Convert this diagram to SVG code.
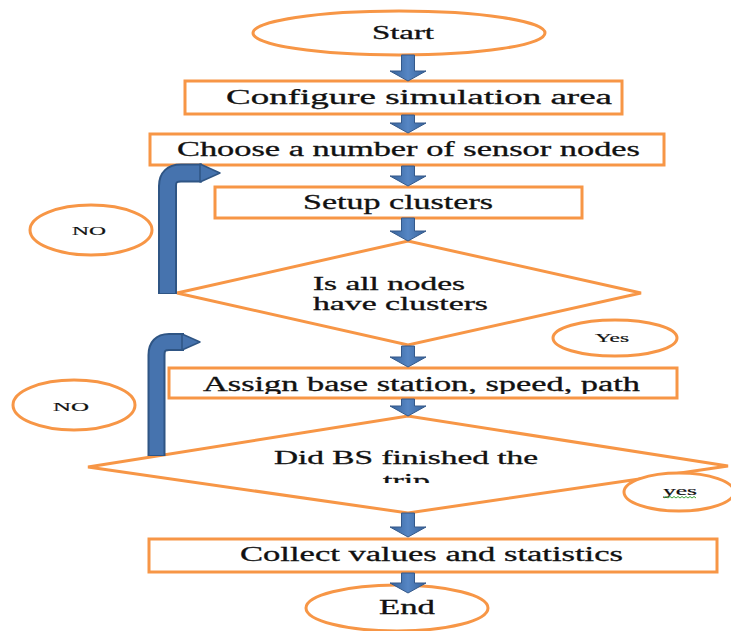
<svg xmlns="http://www.w3.org/2000/svg" width="731" height="631" viewBox="0 0 731 631">
  <style>
    .shape { fill: #fff; stroke: #F79646; stroke-width: 3; }
    .lbl { font-family: "Liberation Serif", "Times New Roman", serif; fill: #111; stroke: #111; stroke-width: 0.3; }
    .big { font-size: 20px; }
    .mid { font-size: 18px; }
    .small { font-size: 13px; stroke-width: 0.2; }
    .blk { fill: url(#blueGrad); stroke: #34598A; stroke-width: 1; }
    .loopOut { fill: none; stroke: #2F5584; }
    .loopIn { fill: none; stroke: #4673AE; }
    .loopHead { fill: #4673AE; stroke: #2F5584; stroke-width: 1.5; stroke-linejoin: round; }
  </style>
  <defs>
    <linearGradient id="blueGrad" x1="0" y1="0" x2="1" y2="0">
      <stop offset="0" stop-color="#36629A"/>
      <stop offset="0.5" stop-color="#5686C4"/>
      <stop offset="1" stop-color="#36629A"/>
    </linearGradient>
    <clipPath id="clipAssign"><rect x="0" y="0" width="731" height="394"/></clipPath>
    <clipPath id="clipTrip"><rect x="0" y="0" width="731" height="483"/></clipPath>
  </defs>
  <rect width="731" height="631" fill="#fff"/>

  <g id="start">
    <ellipse class="shape" cx="399" cy="33" rx="146" ry="22"/>
    <text class="lbl mid" x="403" y="39" text-anchor="middle" textLength="62" lengthAdjust="spacingAndGlyphs">Start</text>
  </g>
  <g id="configure">
    <rect class="shape" x="185" y="81" width="437" height="33"/>
    <text class="lbl big" x="226" y="104" textLength="386" lengthAdjust="spacingAndGlyphs">Configure simulation area</text>
  </g>
  <g id="choose">
    <rect class="shape" x="150" y="134" width="514" height="31"/>
    <text class="lbl big" x="177" y="156" textLength="463" lengthAdjust="spacingAndGlyphs">Choose a number of sensor nodes</text>
  </g>
  <g id="setup">
    <rect class="shape" x="215" y="187" width="367" height="31"/>
    <text class="lbl big" x="303" y="209" textLength="190" lengthAdjust="spacingAndGlyphs">Setup clusters</text>
  </g>
  <g id="decision1">
    <polygon class="shape" points="177,293 408,241 641,293 408,345"/>
    <text class="lbl mid" x="313" y="290" textLength="152" lengthAdjust="spacingAndGlyphs">Is all nodes</text>
    <text class="lbl mid" x="313" y="310" textLength="175" lengthAdjust="spacingAndGlyphs">have clusters</text>
  </g>
  <g id="no1">
    <ellipse class="shape" cx="91" cy="230" rx="61" ry="25"/>
    <text class="lbl small" x="89" y="235" text-anchor="middle" textLength="34" lengthAdjust="spacingAndGlyphs">NO</text>
  </g>
  <g id="yes1">
    <ellipse class="shape" cx="615" cy="338" rx="62" ry="18"/>
    <text class="lbl small" x="612" y="342" text-anchor="middle" textLength="34" lengthAdjust="spacingAndGlyphs">Yes</text>
  </g>
  <g id="assign">
    <rect class="shape" x="169" y="368" width="508" height="30"/>
    <text class="lbl big" x="203" y="391" textLength="437" lengthAdjust="spacingAndGlyphs" clip-path="url(#clipAssign)">Assign base station, speed, path</text>
  </g>
  <g id="decision2">
    <polygon class="shape" points="88,467 408,416 728,466 408,513"/>
    <text class="lbl mid" x="274" y="464" textLength="264" lengthAdjust="spacingAndGlyphs">Did BS finished the</text>
    <text class="lbl mid" x="383" y="487" textLength="47" lengthAdjust="spacingAndGlyphs" clip-path="url(#clipTrip)">trip</text>
  </g>
  <g id="no2">
    <ellipse class="shape" cx="74" cy="405" rx="61" ry="25"/>
    <text class="lbl small" x="71" y="411" text-anchor="middle" textLength="36" lengthAdjust="spacingAndGlyphs">NO</text>
  </g>
  <g id="yes2">
    <ellipse class="shape" cx="679" cy="492" rx="55" ry="19"/>
    <text class="lbl small" x="680" y="495" text-anchor="middle" textLength="34" lengthAdjust="spacingAndGlyphs">yes</text>
    <path d="M664,498 l2,-1.5 2,1.5 2,-1.5 2,1.5 2,-1.5 2,1.5 2,-1.5 2,1.5 2,-1.5 2,1.5 2,-1.5 2,1.5 2,-1.5 2,1.5 2,-1.5 2,1.5" fill="none" stroke="#3BA53B" stroke-width="1"/>
  </g>
  <g id="collect">
    <rect class="shape" x="149" y="539" width="568" height="33"/>
    <text class="lbl big" x="240" y="561" textLength="383" lengthAdjust="spacingAndGlyphs">Collect values and statistics</text>
  </g>
  <g id="end">
    <ellipse class="shape" cx="397" cy="608" rx="91" ry="23"/>
    <text class="lbl big" x="407" y="614" text-anchor="middle" textLength="56" lengthAdjust="spacingAndGlyphs">End</text>
  </g>

  <g id="connectors">
    <polygon class="blk" points="401.5,55 414.5,55 414.5,71 426,71 408,81 390,71 401.5,71"/>
    <polygon class="blk" points="401.5,115 414.5,115 414.5,123 426,123 408,133 390,123 401.5,123"/>
    <polygon class="blk" points="401.5,166 414.5,166 414.5,176 426,176 408,186 390,176 401.5,176"/>
    <polygon class="blk" points="401.5,218 414.5,218 414.5,231 426,231 408,241 390,231 401.5,231"/>
    <polygon class="blk" points="401.5,346 414.5,346 414.5,357 426,357 408,367 390,357 401.5,357"/>
    <polygon class="blk" points="401.5,399 414.5,399 414.5,406 426,406 408,416 390,406 401.5,406"/>
    <polygon class="blk" points="401.5,513 414.5,513 414.5,527 426,527 408,537 390,527 401.5,527"/>
    <polygon class="blk" points="401.5,573 414.5,573 414.5,583 426,583 408,593 390,583 401.5,583"/>
    <!-- loop back 1 -->
    <path class="loopOut" d="M167.5,294 V186 Q167.5,173 181,173 H202" stroke-width="19"/>
    <path class="loopIn" d="M167.5,293 V186 Q167.5,173 181,173 H202" stroke-width="15"/>
    <polygon class="loopHead" points="200,164 220,173 200,182"/>
    <!-- loop back 2 -->
    <path class="loopOut" d="M156.5,456 V355 Q156.5,342 169,342 H184" stroke-width="18"/>
    <path class="loopIn" d="M156.5,455 V355 Q156.5,342 169,342 H184" stroke-width="14"/>
    <polygon class="loopHead" points="182,334 200,342 182,350"/>
  </g>
</svg>
